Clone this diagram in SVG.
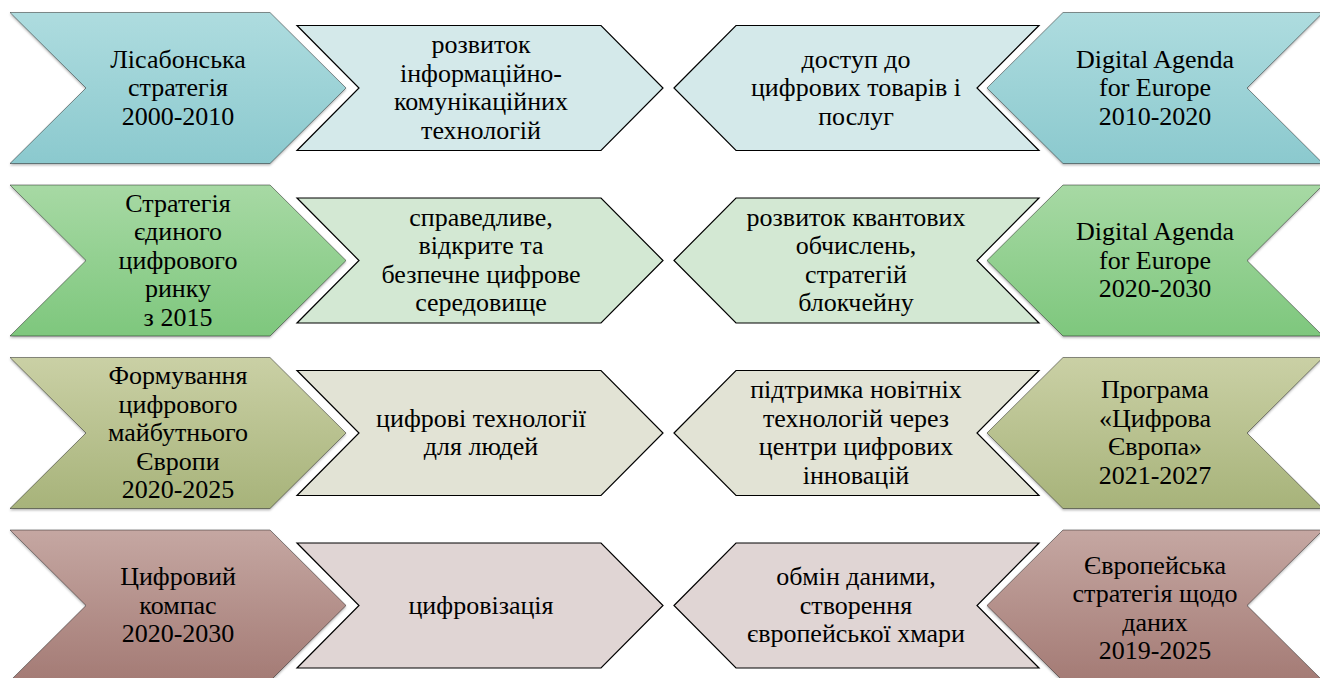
<svg xmlns="http://www.w3.org/2000/svg" xmlns:xlink="http://www.w3.org/1999/xlink" width="1320" height="678" viewBox="0 0 1320 678">
<style>
  .t { font-family: "Liberation Serif", "Times New Roman", serif; font-size: 26px; fill: #000; text-anchor: middle; }
  .outer { stroke: #000; stroke-opacity: 0.42; stroke-width: 1; filter: url(#sh); }
  .inner { stroke: #000; stroke-width: 1.2; stroke-linejoin: miter; }
  .r1i { fill: #d4e9ea; } .r2i { fill: #d3e8d3; } .r3i { fill: #e2e3d5; } .r4i { fill: #e0d5d4; }
</style>
<defs>
  <filter id="sh" x="-5%" y="-5%" width="110%" height="115%">
    <feDropShadow dx="0" dy="1.5" stdDeviation="1.2" flood-color="#000" flood-opacity="0.3"/>
  </filter>
  <linearGradient id="g1" x1="0" y1="0" x2="0" y2="1"><stop offset="0" stop-color="#aedcdf"/><stop offset="1" stop-color="#8bc9ce"/></linearGradient>
  <linearGradient id="g2" x1="0" y1="0" x2="0" y2="1"><stop offset="0" stop-color="#a7d9a4"/><stop offset="1" stop-color="#7ec77d"/></linearGradient>
  <linearGradient id="g3" x1="0" y1="0" x2="0" y2="1"><stop offset="0" stop-color="#cad0a5"/><stop offset="1" stop-color="#a7b37a"/></linearGradient>
  <linearGradient id="g4" x1="0" y1="0" x2="0" y2="1"><stop offset="0" stop-color="#c5a7a2"/><stop offset="1" stop-color="#a47b75"/></linearGradient>
  <path id="bigL" d="M10,-75.5 L270,-75.5 L346,0 L270,75.5 L10,75.5 L86,0 Z"/>
  <path id="inL" d="M297,-62.5 L601,-62.5 L663,0 L601,62.5 L297,62.5 L359,0 Z"/>
  <path id="inR" d="M674,0 L736,-62.5 L1039,-62.5 L977,0 L1039,62.5 L736,62.5 Z"/>
  <path id="bigR" d="M987,0 L1063,-75.5 L1323,-75.5 L1247,0 L1323,75.5 L1063,75.5 Z"/>
</defs>

<g id="connectors"></g>

<!-- Row 1 -->
<g transform="translate(0,88)">
  <g id="r1-left"><use xlink:href="#bigL" class="outer" fill="url(#g1)"/>
    <text class="t"><tspan x="178" y="-20.5">Лісабонська</tspan><tspan x="178" y="8">стратегія</tspan><tspan x="178" y="36.5">2000-2010</tspan></text></g>
  <g id="r1-inner-left"><use xlink:href="#inL" class="inner r1i"/>
    <text class="t"><tspan x="481" y="-34.75">розвиток</tspan><tspan x="481" y="-6.25">інформаційно-</tspan><tspan x="481" y="22.25">комунікаційних</tspan><tspan x="481" y="50.75">технологій</tspan></text></g>
  <g id="r1-inner-right"><use xlink:href="#inR" class="inner r1i"/>
    <text class="t"><tspan x="856" y="-20.5">доступ до</tspan><tspan x="856" y="8">цифрових товарів і</tspan><tspan x="856" y="36.5">послуг</tspan></text></g>
  <g id="r1-right"><use xlink:href="#bigR" class="outer" fill="url(#g1)"/>
    <text class="t"><tspan x="1155" y="-20.5">Digital Agenda</tspan><tspan x="1155" y="8">for Europe</tspan><tspan x="1155" y="36.5">2010-2020</tspan></text></g>
</g>

<!-- Row 2 -->
<g transform="translate(0,260.5)">
  <g id="r2-left"><use xlink:href="#bigL" class="outer" fill="url(#g2)"/>
    <text class="t"><tspan x="178" y="-49">Стратегія</tspan><tspan x="178" y="-20.5">єдиного</tspan><tspan x="178" y="8">цифрового</tspan><tspan x="178" y="36.5">ринку</tspan><tspan x="178" y="65">з 2015</tspan></text></g>
  <g id="r2-inner-left"><use xlink:href="#inL" class="inner r2i"/>
    <text class="t"><tspan x="481" y="-34.75">справедливе,</tspan><tspan x="481" y="-6.25">відкрите та</tspan><tspan x="481" y="22.25">безпечне цифрове</tspan><tspan x="481" y="50.75">середовище</tspan></text></g>
  <g id="r2-inner-right"><use xlink:href="#inR" class="inner r2i"/>
    <text class="t"><tspan x="856" y="-34.75">розвиток квантових</tspan><tspan x="856" y="-6.25">обчислень,</tspan><tspan x="856" y="22.25">стратегій</tspan><tspan x="856" y="50.75">блокчейну</tspan></text></g>
  <g id="r2-right"><use xlink:href="#bigR" class="outer" fill="url(#g2)"/>
    <text class="t"><tspan x="1155" y="-20.5">Digital Agenda</tspan><tspan x="1155" y="8">for Europe</tspan><tspan x="1155" y="36.5">2020-2030</tspan></text></g>
</g>

<!-- Row 3 -->
<g transform="translate(0,433)">
  <g id="r3-left"><use xlink:href="#bigL" class="outer" fill="url(#g3)"/>
    <text class="t"><tspan x="178" y="-49">Формування</tspan><tspan x="178" y="-20.5">цифрового</tspan><tspan x="178" y="8">майбутнього</tspan><tspan x="178" y="36.5">Європи</tspan><tspan x="178" y="65">2020-2025</tspan></text></g>
  <g id="r3-inner-left"><use xlink:href="#inL" class="inner r3i"/>
    <text class="t"><tspan x="481" y="-6.25">цифрові технології</tspan><tspan x="481" y="22.25">для людей</tspan></text></g>
  <g id="r3-inner-right"><use xlink:href="#inR" class="inner r3i"/>
    <text class="t"><tspan x="856" y="-34.75">підтримка новітніх</tspan><tspan x="856" y="-6.25">технологій через</tspan><tspan x="856" y="22.25">центри цифрових</tspan><tspan x="856" y="50.75">інновацій</tspan></text></g>
  <g id="r3-right"><use xlink:href="#bigR" class="outer" fill="url(#g3)"/>
    <text class="t"><tspan x="1155" y="-34.75">Програма</tspan><tspan x="1155" y="-6.25">«Цифрова</tspan><tspan x="1155" y="22.25">Європа»</tspan><tspan x="1155" y="50.75">2021-2027</tspan></text></g>
</g>

<!-- Row 4 -->
<g transform="translate(0,605.5)">
  <g id="r4-left"><use xlink:href="#bigL" class="outer" fill="url(#g4)"/>
    <text class="t"><tspan x="178" y="-20.5">Цифровий</tspan><tspan x="178" y="8">компас</tspan><tspan x="178" y="36.5">2020-2030</tspan></text></g>
  <g id="r4-inner-left"><use xlink:href="#inL" class="inner r4i"/>
    <text class="t"><tspan x="481" y="8">цифровізація</tspan></text></g>
  <g id="r4-inner-right"><use xlink:href="#inR" class="inner r4i"/>
    <text class="t"><tspan x="856" y="-20.5">обмін даними,</tspan><tspan x="856" y="8">створення</tspan><tspan x="856" y="36.5">європейської хмари</tspan></text></g>
  <g id="r4-right"><use xlink:href="#bigR" class="outer" fill="url(#g4)"/>
    <text class="t"><tspan x="1155" y="-32">Європейська</tspan><tspan x="1155" y="-3.5">стратегія щодо</tspan><tspan x="1155" y="25">даних</tspan><tspan x="1155" y="53.5">2019-2025</tspan></text></g>
</g>
</svg>
